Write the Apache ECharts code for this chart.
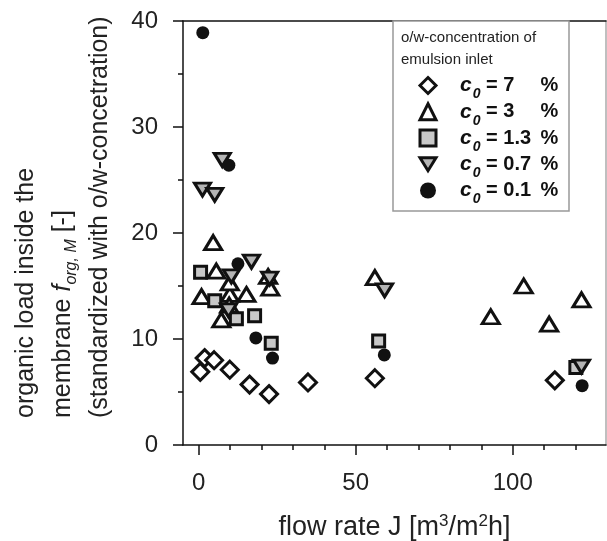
<!DOCTYPE html>
<html><head><meta charset="utf-8">
<script src="https://cdn.jsdelivr.net/npm/echarts@6/dist/echarts.min.js"></script>
<style>html,body{margin:0;padding:0;background:#fff}#c{width:607px;height:541px}</style>
</head><body><div id="c"></div>
<script>
// ---- data: [flow rate J, organic load] ----
const c7  = [[0.5,6.9],[1.9,8.2],[4.9,8.0],[9.9,7.1],[16.2,5.7],[22.4,4.8],[34.8,5.9],[56.1,6.3],[113.4,6.1]];
const c3  = [[0.9,14.0],[4.6,19.1],[5.6,16.4],[9.9,14.2],[9.9,15.3],[9.7,13.2],[7.2,11.8],[15.2,14.2],[22.1,15.9],[22.8,14.8],[56.1,15.8],[93.0,12.1],[103.5,15.0],[111.6,11.4],[121.9,13.7]];
const c13 = [[0.6,16.3],[5.1,13.6],[12.0,11.9],[17.8,12.2],[23.1,9.6],[57.3,9.8],[120.1,7.3]];
const c07 = [[1.2,24.1],[5.1,23.6],[7.5,26.9],[16.8,17.3],[10.4,15.9],[22.6,15.7],[9.5,12.7],[59.2,14.6],[121.9,7.4]];
const c01 = [[1.3,38.9],[9.6,26.4],[12.5,17.1],[18.2,10.1],[23.5,8.2],[59.1,8.5],[122.1,5.6]];
const seriesNames = ['7', '3', '1.3', '0.7', '0.1'];
const xMajorTicks = [0, 50, 100];
const xMinorTicks = [10, 20, 30, 40, 60, 70, 80, 90, 110, 120];

const FONT = 'Liberation Sans, Arial, sans-serif';
const ink = '#111';
const DOWN_TRI = 'path://M0,0 L16,0 L8,13 Z';
const chart = echarts.init(document.getElementById('c'));

function mk(name, data, symbol, size, fill, border) {
  return {
    type: 'scatter', name: name, data: data, symbol: symbol, symbolSize: size,
    xAxisIndex: 0, yAxisIndex: 0,
    itemStyle: { color: fill, borderColor: ink, borderWidth: border, opacity: 1 },
    emphasis: { disabled: true }, z: 3
  };
}

const legendStyles = [
  { color: '#fff', borderColor: ink, borderWidth: 3 },
  { color: '#fff', borderColor: ink, borderWidth: 3 },
  { color: '#c8c8c8', borderColor: ink, borderWidth: 3 },
  { color: '#b4b4b4', borderColor: ink, borderWidth: 3 },
  { color: ink, borderColor: ink, borderWidth: 0 }
];

chart.setOption({
  animation: false,
  backgroundColor: '#fff',
  grid: { left: 183, top: 21, right: 1, bottom: 96, containLabel: false, outerBoundsMode: 'none' },
  xAxis: [
    { type: 'value', min: -5, max: 129.7, position: 'bottom',
      name: 'flow rate J [m{sup|3}/m{sup|2}h]', nameLocation: 'middle', nameGap: 68,
      nameTextStyle: { fontFamily: FONT, fontSize: 27, color: '#222',
        rich: { sup: { fontFamily: FONT, fontSize: 17, color: '#222', verticalAlign: 'top', lineHeight: 30 } } },
      axisLine: { onZero: false, lineStyle: { color: ink, width: 1.5 } },
      axisTick: { show: true, customValues: xMajorTicks, length: 10, lineStyle: { color: ink, width: 1.5 } },
      axisLabel: { customValues: xMajorTicks, margin: 26, fontFamily: FONT, fontSize: 24, color: '#222' },
      splitLine: { show: false } },
    { type: 'value', min: -5, max: 129.7, position: 'bottom',
      axisLine: { show: false, onZero: false },
      axisTick: { show: true, customValues: xMinorTicks, length: 5, lineStyle: { color: ink, width: 1.5 } },
      axisLabel: { show: false }, splitLine: { show: false } },
    { type: 'value', min: -5, max: 129.7, position: 'top',
      axisLine: { show: true, onZero: false, lineStyle: { color: ink, width: 1.5 } },
      axisTick: { show: false }, axisLabel: { show: false }, splitLine: { show: false } }
  ],
  yAxis: [
    { type: 'value', min: 0, max: 40, interval: 10, position: 'left',
      axisLine: { show: true, onZero: false, lineStyle: { color: ink, width: 1.5 } },
      axisTick: { show: true, length: 10, lineStyle: { color: ink, width: 1.5 } },
      minorTick: { show: true, splitNumber: 2, length: 5, lineStyle: { color: ink, width: 1.5 } },
      axisLabel: { margin: 25, fontFamily: FONT, fontSize: 24, color: '#222' },
      splitLine: { show: false } },
    { type: 'value', min: 0, max: 40, position: 'right',
      axisLine: { show: true, onZero: false, lineStyle: { color: '#aaa', width: 1.5 } },
      axisTick: { show: false }, axisLabel: { show: false }, splitLine: { show: false } }
  ],
  legend: {
    orient: 'vertical', left: 418.5, top: 75, padding: 0, itemGap: -0.25,
    itemWidth: 16, itemHeight: 16, selectedMode: false,
    data: seriesNames.map(function (n, i) { return { name: n, itemStyle: legendStyles[i] }; }),
    formatter: function (n) { return '{sp|}{c|c}{s|0}{t| = ' + n + '}{p|%}'; },
    textStyle: {
      fontFamily: FONT, fontSize: 20, fontWeight: 'bold', color: '#111',
      rich: {
        sp: { width: 19 },
        c: { fontFamily: FONT, fontSize: 21, fontWeight: 'bold', fontStyle: 'italic', color: '#111', lineHeight: 20 },
        s: { fontFamily: FONT, fontSize: 14, fontWeight: 'bold', fontStyle: 'italic', color: '#111', verticalAlign: 'bottom', lineHeight: 20, padding: [0, 0, -6, 1] },
        t: { fontFamily: FONT, fontSize: 20, fontWeight: 'bold', color: '#111', width: 60, lineHeight: 20 },
        p: { fontFamily: FONT, fontSize: 20, fontWeight: 'bold', color: '#111', lineHeight: 20 }
      }
    }
  },
  graphic: [
    { type: 'rect', z: 2, shape: { x: 393, y: 21, width: 176, height: 190 },
      style: { fill: '#fff', stroke: '#999', lineWidth: 1.5 } },
    { type: 'text', z: 3, x: 401, y: 38,
      style: { text: 'o/w-concentration of', font: '15px ' + FONT, fill: '#222', textVerticalAlign: 'middle' } },
    { type: 'text', z: 3, x: 401, y: 60,
      style: { text: 'emulsion inlet', font: '15px ' + FONT, fill: '#222', textVerticalAlign: 'middle' } },
    { type: 'text', z: 3, x: 63, y: 418, rotation: Math.PI / 2,
      style: {
        text: 'organic load inside the\nmembrane {i|f}{sub|org, M} [-]\n(standardized with o/w-concetration)',
        font: '25px ' + FONT, fill: '#222', textAlign: 'left', textVerticalAlign: 'middle', lineHeight: 37,
        rich: {
          i: { font: 'italic 25px ' + FONT, fill: '#222', lineHeight: 37 },
          sub: { font: 'italic 16px ' + FONT, fill: '#222', verticalAlign: 'bottom', lineHeight: 37, padding: [0, 0, 2, 0] }
        }
      } }
  ],
  series: [
    mk('7', c7, 'diamond', 17, '#fff', 3),
    mk('3', c3, 'triangle', [17, 14], '#fff', 3),
    mk('1.3', c13, 'rect', 12, '#c8c8c8', 3),
    mk('0.7', c07, DOWN_TRI, [16, 13], '#b4b4b4', 3),
    mk('0.1', c01, 'circle', 13, ink, 0)
  ]
});
</script>
</body></html>
